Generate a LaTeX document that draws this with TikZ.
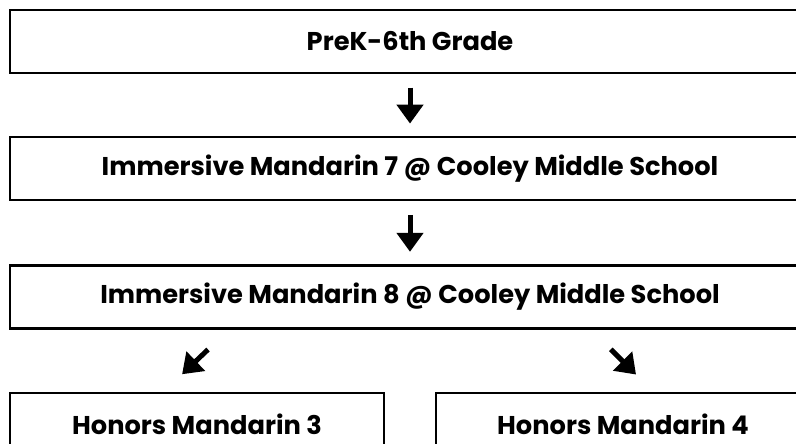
\documentclass[tikz,border=0pt]{standalone}
\usepackage{fontspec}
\setmainfont{Poppins}
\usetikzlibrary{positioning,arrows.meta}

\tikzset{
  stagebox/.style={draw, line width=2.2pt, minimum height=63pt, inner sep=0pt,
    font=\fontsize{25.7}{30}\selectfont\bfseries},
  wide/.style={stagebox, minimum width=800pt},
  half/.style={stagebox, minimum width=374pt},
  nextarrow/.style={line width=5pt, -{Triangle[length=19pt,width=26pt]}}
}

\begin{document}
\begin{tikzpicture}[x=1pt,y=1pt]
\useasboundingbox (0,0) rectangle (796,-444);
\clip (0,0) rectangle (796,-444);
\node[wide](prek) at (410,-41.5) {PreK-6th Grade};
\node[wide, below=62pt of prek](im7) {Immersive Mandarin 7 @ Cooley Middle School};
\node[wide, below=63pt of im7](im8) {Immersive Mandarin 8 @ Cooley Middle School};
\node[half, below=62pt of im8.south west, anchor=north west](hon3) {Honors Mandarin 3};
\node[half, below=62pt of im8.south east, anchor=north east](hon4) {Honors Mandarin 4};
\draw[nextarrow, shorten <=13.5pt, shorten >=12.5pt] (prek) -- (im7);
\draw[nextarrow, shorten <=13.5pt, shorten >=12.5pt] (im7) -- (im8);
\draw[nextarrow, shorten <=29pt, shorten >=25pt]
  ([xshift=-181pt]im8.south) -- ([xshift=-33pt]hon3.north);
\draw[nextarrow, shorten <=28pt, shorten >=24pt]
  ([xshift=181pt]im8.south) -- ([xshift=30pt]hon4.north);
\end{tikzpicture}
\end{document}
